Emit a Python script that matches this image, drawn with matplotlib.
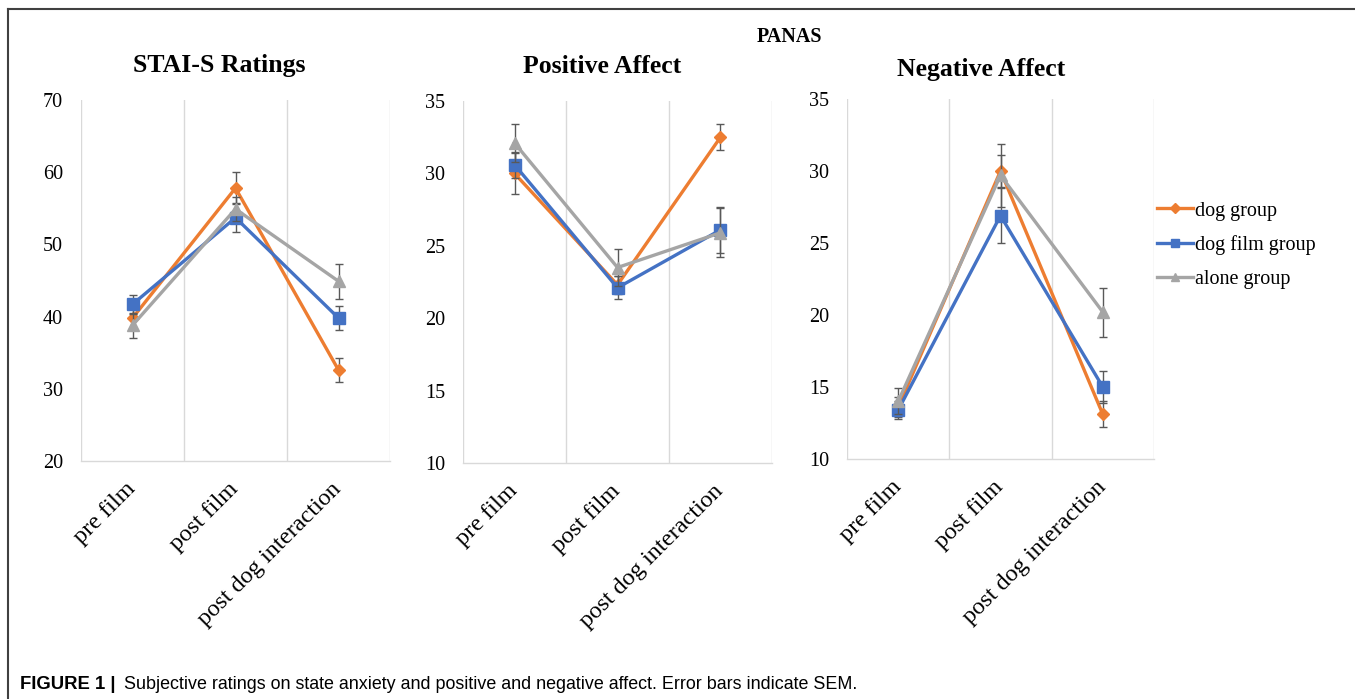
import numpy as np
import matplotlib
matplotlib.use("Agg")
import matplotlib.pyplot as plt
from matplotlib.lines import Line2D

# data
stages = ["pre film", "post film", "post dog interaction"]
groups = ["dog group", "dog film group", "alone group"]

stai_means = [
    [39.8, 57.8, 32.6],   # dog group
    [41.7, 53.7, 39.8],   # dog film group
    [38.8, 54.9, 44.9],   # alone group
]
stai_sem = [
    [1.4, 2.2, 1.6],
    [1.3, 2.0, 1.6],
    [1.7, 1.7, 2.4],
]

pos_means = [
    [30.0, 22.3, 32.5],
    [30.6, 22.1, 26.1],
    [32.1, 23.5, 25.9],
]
pos_sem = [
    [1.4, 0.6, 0.9],
    [0.9, 0.8, 1.6],
    [1.3, 1.3, 1.7],
]

neg_means = [
    [13.6, 30.0, 13.1],
    [13.4, 26.9, 15.0],
    [14.0, 29.7, 20.2],
]
neg_sem = [
    [0.7, 1.1, 0.9],
    [0.6, 1.9, 1.1],
    [0.9, 2.2, 1.7],
]

panels = [
    ("STAI-S Ratings", stai_means, stai_sem, (20, 70), 10),
    ("Positive Affect", pos_means, pos_sem, (10, 35), 5),
    ("Negative Affect", neg_means, neg_sem, (10, 35), 5),
]

colors = ["#ED7D31", "#4472C4", "#A5A5A5"]
markers = ["D", "s", "^"]
msizes = [6.5, 8, 8.5]

W, H = 1355, 699
serif = "Liberation Serif"

fig = plt.figure(figsize=(W / 100, H / 100), dpi=100)

# axes boxes in pixels: left, top, right, bottom
boxes = [(81, 100, 390, 461), (463, 101, 772, 463), (847, 99, 1154, 459)]
titles_pos = [(219, 72), (602, 73), (981, 76)]

x = np.arange(len(stages)) + 0.5
axes = []
for (title, means, sems, ylim, step), box, tpos in zip(panels, boxes, titles_pos):
    l, t, r, b = box
    ax = fig.add_axes([l / W, 1 - b / H, (r - l) / W, (b - t) / H])
    for i in range(len(groups)):
        ax.errorbar(x, means[i], yerr=sems[i], color=colors[i], lw=2.4,
                    marker=markers[i], ms=msizes[i], mec=colors[i],
                    ecolor="#595959", elinewidth=1.0, capsize=3, capthick=1.0,
                    zorder=3 + i)
    ax.set_xlim(0, 3)
    ax.set_ylim(*ylim)
    ax.set_yticks(np.arange(ylim[0], ylim[1] + 0.1, step))
    ax.set_xticks(x)
    ax.set_xticklabels(stages, rotation=45, ha="right", va="center",
                       rotation_mode="anchor", family=serif, fontsize=17.5)
    for lab in ax.get_yticklabels():
        lab.set_family(serif)
        lab.set_fontsize(14.5)
    ax.tick_params(axis="y", length=0, pad=13)
    ax.tick_params(axis="x", length=0, pad=18)
    for xl in [0, 1, 2, 3]:
        ax.axvline(xl, color="#D9D9D9", lw=1, zorder=1)
    for s in ["top", "right", "left"]:
        ax.spines[s].set_visible(False)
    ax.spines["bottom"].set_color("#D9D9D9")
    ax.spines["bottom"].set_linewidth(1)
    fig.text(tpos[0] / W, 1 - tpos[1] / H, title, ha="center", va="baseline",
             family=serif, fontweight="bold", fontsize=18.5)
    axes.append(ax)

fig.text(789 / W, 1 - 42 / H, "PANAS", ha="center", va="baseline",
         family=serif, fontweight="bold", fontsize=14.5)

handles = [Line2D([], [], color=c, marker=m, ms=ms * 0.75, lw=2.4)
           for c, m, ms in zip(colors, markers, msizes)]
fig.legend(handles, groups, loc="center left",
           bbox_to_anchor=(1157 / W, 1 - 245 / H), frameon=False,
           prop={"family": serif, "size": 14.5}, handlelength=1.8,
           handletextpad=0.1, labelspacing=0.72, borderpad=0, borderaxespad=0)

# frame lines (left and top) of the figure box
fig.add_artist(Line2D([8 / W, 8 / W], [0, 1 - 9 / H], color="#404040", lw=1.5))
fig.add_artist(Line2D([8 / W, 1], [1 - 9 / H, 1 - 9 / H], color="#404040", lw=1.5))

# caption
fig.text(20 / W, 1 - 689 / H, "FIGURE 1 |", ha="left", va="baseline",
         family="Liberation Sans", fontweight="bold", fontsize=13.3)
fig.text(124 / W, 1 - 689 / H,
         "Subjective ratings on state anxiety and positive and negative affect. Error bars indicate SEM.",
         ha="left", va="baseline", family="Liberation Sans", fontsize=12.9)

fig.savefig("out.png", dpi=100)
